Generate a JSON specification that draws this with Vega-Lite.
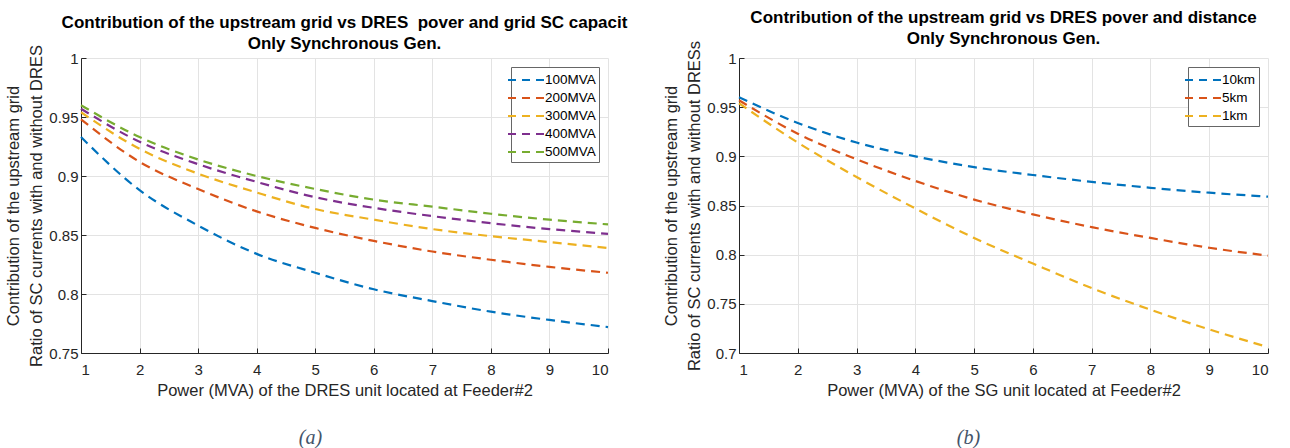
{
  "$schema": "https://vega.github.io/schema/vega-lite/v6.json",
  "background": "white",
  "padding": {"left": 5, "top": 9, "right": 5, "bottom": 5},
  "datasets": {
    "a": [
      {"s": "100MVA", "x": 1, "y": 0.933}, {"s": "100MVA", "x": 2, "y": 0.888}, {"s": "100MVA", "x": 3, "y": 0.858}, {"s": "100MVA", "x": 4, "y": 0.834}, {"s": "100MVA", "x": 5, "y": 0.818}, {"s": "100MVA", "x": 6, "y": 0.804}, {"s": "100MVA", "x": 7, "y": 0.794}, {"s": "100MVA", "x": 8, "y": 0.785}, {"s": "100MVA", "x": 9, "y": 0.778}, {"s": "100MVA", "x": 10, "y": 0.772},
      {"s": "200MVA", "x": 1, "y": 0.948}, {"s": "200MVA", "x": 2, "y": 0.912}, {"s": "200MVA", "x": 3, "y": 0.889}, {"s": "200MVA", "x": 4, "y": 0.870}, {"s": "200MVA", "x": 5, "y": 0.856}, {"s": "200MVA", "x": 6, "y": 0.845}, {"s": "200MVA", "x": 7, "y": 0.836}, {"s": "200MVA", "x": 8, "y": 0.829}, {"s": "200MVA", "x": 9, "y": 0.823}, {"s": "200MVA", "x": 10, "y": 0.818},
      {"s": "300MVA", "x": 1, "y": 0.954}, {"s": "300MVA", "x": 2, "y": 0.923}, {"s": "300MVA", "x": 3, "y": 0.902}, {"s": "300MVA", "x": 4, "y": 0.886}, {"s": "300MVA", "x": 5, "y": 0.872}, {"s": "300MVA", "x": 6, "y": 0.863}, {"s": "300MVA", "x": 7, "y": 0.855}, {"s": "300MVA", "x": 8, "y": 0.849}, {"s": "300MVA", "x": 9, "y": 0.844}, {"s": "300MVA", "x": 10, "y": 0.839},
      {"s": "400MVA", "x": 1, "y": 0.957}, {"s": "400MVA", "x": 2, "y": 0.929}, {"s": "400MVA", "x": 3, "y": 0.910}, {"s": "400MVA", "x": 4, "y": 0.895}, {"s": "400MVA", "x": 5, "y": 0.882}, {"s": "400MVA", "x": 6, "y": 0.873}, {"s": "400MVA", "x": 7, "y": 0.866}, {"s": "400MVA", "x": 8, "y": 0.860}, {"s": "400MVA", "x": 9, "y": 0.855}, {"s": "400MVA", "x": 10, "y": 0.851},
      {"s": "500MVA", "x": 1, "y": 0.960}, {"s": "500MVA", "x": 2, "y": 0.933}, {"s": "500MVA", "x": 3, "y": 0.914}, {"s": "500MVA", "x": 4, "y": 0.900}, {"s": "500MVA", "x": 5, "y": 0.889}, {"s": "500MVA", "x": 6, "y": 0.880}, {"s": "500MVA", "x": 7, "y": 0.874}, {"s": "500MVA", "x": 8, "y": 0.868}, {"s": "500MVA", "x": 9, "y": 0.863}, {"s": "500MVA", "x": 10, "y": 0.859}
    ],
    "b": [
      {"s": "10km", "x": 1, "y": 0.960}, {"s": "10km", "x": 2, "y": 0.934}, {"s": "10km", "x": 3, "y": 0.914}, {"s": "10km", "x": 4, "y": 0.900}, {"s": "10km", "x": 5, "y": 0.889}, {"s": "10km", "x": 6, "y": 0.881}, {"s": "10km", "x": 7, "y": 0.874}, {"s": "10km", "x": 8, "y": 0.868}, {"s": "10km", "x": 9, "y": 0.863}, {"s": "10km", "x": 10, "y": 0.859},
      {"s": "5km", "x": 1, "y": 0.957}, {"s": "5km", "x": 2, "y": 0.923}, {"s": "5km", "x": 3, "y": 0.897}, {"s": "5km", "x": 4, "y": 0.875}, {"s": "5km", "x": 5, "y": 0.856}, {"s": "5km", "x": 6, "y": 0.841}, {"s": "5km", "x": 7, "y": 0.828}, {"s": "5km", "x": 8, "y": 0.817}, {"s": "5km", "x": 9, "y": 0.807}, {"s": "5km", "x": 10, "y": 0.799},
      {"s": "1km", "x": 1, "y": 0.954}, {"s": "1km", "x": 2, "y": 0.914}, {"s": "1km", "x": 3, "y": 0.879}, {"s": "1km", "x": 4, "y": 0.847}, {"s": "1km", "x": 5, "y": 0.817}, {"s": "1km", "x": 6, "y": 0.791}, {"s": "1km", "x": 7, "y": 0.766}, {"s": "1km", "x": 8, "y": 0.744}, {"s": "1km", "x": 9, "y": 0.724}, {"s": "1km", "x": 10, "y": 0.706}
    ]
  },
  "config": {
    "view": {"stroke": null},
    "font": "Liberation Sans",
    "axis": {
      "labelFont": "Liberation Sans", "labelFontSize": 15, "labelColor": "#262626",
      "titleFont": "Liberation Sans", "titleFontSize": 16.5, "titleColor": "#262626", "titleFontWeight": "normal",
      "domainColor": "#262626", "tickColor": "#262626", "tickSize": -5,
      "gridColor": "#e3e3e3", "gridWidth": 1
    },
    "legend": {
      "orient": "top-right", "offset": 9, "title": null,
      "symbolType": "M-2,0H2", "symbolSize": 324, "symbolStrokeWidth": 2, "symbolDash": [8, 6],
      "symbolOffset": 2, "labelOffset": 9,
      "labelFont": "Liberation Sans", "labelFontSize": 13.5, "labelColor": "#000",
      "strokeColor": "#666", "fillColor": "white", "padding": 3, "rowPadding": 1
    },
    "title": {"font": "Liberation Sans", "fontSize": 17, "fontWeight": "bold", "color": "#000", "lineHeight": 21}
  },
  "spacing": 35,
  "hconcat": [
    {
      "title": {"text": "(a)", "orient": "bottom", "font": "Liberation Serif", "fontStyle": "italic", "fontWeight": "normal", "fontSize": 20, "color": "#44546A", "offset": 29, "dx": 293},
      "resolve": {"scale": {"color": "independent"}, "legend": {"color": "independent"}},
      "vconcat": [
        {
          "title": {"text": ["Contribution of the upstream grid vs DRES\u00a0 pover and grid SC capacit", "Only Synchronous Gen."], "frame": "group", "offset": -8},
          "width": 527,
          "height": 295,
          "data": {"name": "a"},
          "mark": {"type": "line", "strokeDash": [9, 6], "strokeWidth": 2.2, "interpolate": "monotone"},
          "encoding": {
            "x": {"field": "x", "type": "quantitative", "scale": {"domain": [1, 10], "nice": false},
              "axis": {"values": [1, 2, 3, 4, 5, 6, 7, 8, 9, 10], "title": "Power (MVA) of the DRES unit located at Feeder#2", "labelPadding": 14, "titlePadding": 5}},
            "y": {"field": "y", "type": "quantitative", "scale": {"domain": [0.75, 1], "nice": false, "zero": false},
              "axis": {"values": [0.75, 0.8, 0.85, 0.9, 0.95, 1], "format": ".2~f", "title": ["Contribution of the upstream grid", "Ratio of SC currents with and without DRES"], "titleLineHeight": 23, "labelPadding": 8, "titlePadding": 4}},
            "color": {"field": "s", "type": "nominal", "scale": {"domain": ["100MVA", "200MVA", "300MVA", "400MVA", "500MVA"], "range": ["#0072BD", "#D95319", "#EDB120", "#7E2F8E", "#77AC30"]}, "legend": {"orient": "top-right"}}
          }
        }
      ]
    },
    {
      "title": {"text": "(b)", "orient": "bottom", "font": "Liberation Serif", "fontStyle": "italic", "fontWeight": "normal", "fontSize": 20, "color": "#44546A", "offset": 29, "dx": 293},
      "resolve": {"scale": {"color": "independent"}, "legend": {"color": "independent"}},
      "vconcat": [
        {
          "title": {"text": ["Contribution of the upstream grid vs DRES pover and distance", "Only Synchronous Gen."], "frame": "group", "offset": -8},
          "width": 529,
          "height": 295,
          "data": {"name": "b"},
          "mark": {"type": "line", "strokeDash": [9, 6], "strokeWidth": 2.2, "interpolate": "monotone"},
          "encoding": {
            "x": {"field": "x", "type": "quantitative", "scale": {"domain": [1, 10], "nice": false},
              "axis": {"values": [1, 2, 3, 4, 5, 6, 7, 8, 9, 10], "title": "Power (MVA) of the SG unit located at Feeder#2", "labelPadding": 14, "titlePadding": 5}},
            "y": {"field": "y", "type": "quantitative", "scale": {"domain": [0.7, 1], "nice": false, "zero": false},
              "axis": {"values": [0.7, 0.75, 0.8, 0.85, 0.9, 0.95, 1], "format": ".2~f", "title": ["Contribution of the upstream grid", "Ratio of SC currents with and without DRESs"], "titleLineHeight": 23, "labelPadding": 8, "titlePadding": 4}},
            "color": {"field": "s", "type": "nominal", "scale": {"domain": ["10km", "5km", "1km"], "range": ["#0072BD", "#D95319", "#EDB120"]}, "legend": {"orient": "top-right"}}
          }
        }
      ]
    }
  ],
  "resolve": {"scale": {"color": "independent"}, "legend": {"color": "independent"}}
}
